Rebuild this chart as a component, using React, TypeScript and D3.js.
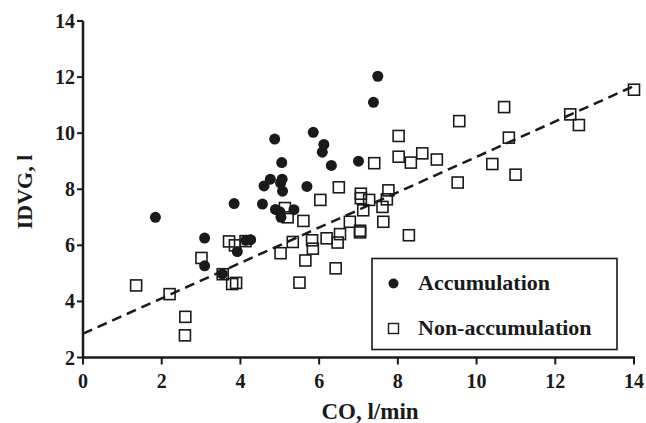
import React from "react";
import * as d3 from "d3";

const accX = [1.84, 3.09, 3.09, 3.54, 3.84, 3.92, 4.14, 4.26, 4.56, 4.6, 4.76, 4.87, 4.89, 5.02, 5.05, 5.06, 5.07, 5.0, 5.03, 5.36, 5.69, 5.85, 6.12, 6.08, 6.31, 7.0, 7.38, 7.49];
const accY = [7.0, 6.26, 5.27, 4.98, 7.49, 5.78, 6.18, 6.2, 7.47, 8.12, 8.36, 9.79, 7.28, 8.22, 8.95, 8.36, 7.93, 7.2, 7.0, 7.27, 8.1, 10.03, 9.6, 9.32, 8.85, 9.0, 11.1, 12.03];

const nonX = [1.35, 2.2, 2.6, 2.59, 3.01, 3.55, 3.71, 3.86, 4.13, 3.79, 3.89, 5.02, 5.33, 5.2, 5.13, 5.6, 5.65, 5.5, 5.82, 5.84, 6.03, 6.19, 6.5, 6.53, 6.47, 6.42, 6.78, 7.06, 7.06, 7.04, 7.04, 7.12, 7.27, 7.4, 7.61, 7.63, 7.72, 7.76, 8.02, 8.02, 8.33, 8.28, 8.62, 8.99, 9.52, 9.56, 10.4, 10.7, 10.82, 10.99, 12.38, 12.6, 14.0];
const nonY = [4.57, 4.26, 3.45, 2.79, 5.55, 4.97, 6.14, 6.0, 6.15, 4.62, 4.66, 5.72, 6.12, 7.0, 7.33, 6.87, 5.46, 4.67, 6.18, 5.88, 7.62, 6.25, 8.07, 6.4, 6.1, 5.18, 6.84, 7.84, 7.68, 6.52, 6.46, 7.25, 7.62, 8.93, 7.37, 6.84, 7.64, 7.96, 9.9, 9.16, 8.95, 6.36, 9.28, 9.06, 8.24, 10.43, 8.9, 10.93, 9.84, 8.52, 10.67, 10.29, 11.55];

const fitX = [0, 14];
const fitY = [2.85, 11.68];

const xTicks = [0, 2, 4, 6, 8, 10, 12, 14];
const yTicks = [2, 4, 6, 8, 10, 12, 14];

const legendLabels = ["Accumulation", "Non-accumulation"];

export default function App() {
  const x = d3.scaleLinear().domain([0, 14]).range([83, 634]);
  const y = d3.scaleLinear().domain([2, 14]).range([357.5, 21]);
  const font = "'Liberation Serif', 'Times New Roman', serif";
  const line = d3.line<number>().x((_, i) => x(fitX[i])).y((d) => y(d));
  const sq = 11;
  const ink = "#1a1a1a";

  return (
    <svg width={646} height={423} style={{ position: "absolute", left: 0, top: 0, background: "#fff" }} fontFamily={font} fontWeight="bold">
      <rect x={0} y={0} width={646} height={423} fill="#fff" />
      {/* axes */}
      <line x1={x(0)} x2={x(0)} y1={y(14)} y2={y(2) + 1} stroke={ink} strokeWidth={2.5} />
      <line x1={x(0) - 1} x2={x(14) + 1} y1={y(2)} y2={y(2)} stroke={ink} strokeWidth={2.5} />
      {yTicks.map((t) => (
        <g key={"y" + t}>
          <line x1={x(0) - 6} x2={x(0)} y1={y(t)} y2={y(t)} stroke={ink} strokeWidth={2} />
          <text x={x(0) - 8} y={y(t)} dy="0.35em" textAnchor="end" fontSize={20} fill={ink}>{t}</text>
        </g>
      ))}
      {xTicks.map((t) => (
        <g key={"x" + t}>
          <line x1={x(t)} x2={x(t)} y1={y(2)} y2={y(2) + 7} stroke={ink} strokeWidth={2} />
          <text x={x(t)} y={y(2) + 30} textAnchor="middle" fontSize={20} fill={ink}>{t}</text>
        </g>
      ))}
      <text x={370} y={419} textAnchor="middle" fontSize={23} fill={ink}>CO, l/min</text>
      <text transform={`translate(32,192) rotate(-90)`} textAnchor="middle" fontSize={22} fill={ink}>IDVG, l</text>

      {/* regression line */}
      <path d={line(fitY) || ""} fill="none" stroke={ink} strokeWidth={2.5} strokeDasharray="10,6" />

      {/* non-accumulation squares */}
      {nonX.map((v, i) => (
        <rect key={"n" + i} x={x(v) - sq / 2} y={y(nonY[i]) - sq / 2} width={sq} height={sq} fill="none" stroke={ink} strokeWidth={1.6} />
      ))}
      {/* accumulation circles */}
      {accX.map((v, i) => (
        <circle key={"a" + i} cx={x(v)} cy={y(accY[i])} r={5.5} fill={ink} />
      ))}

      {/* legend */}
      <rect x={372} y={258.5} width={245} height={91} fill="#fff" stroke={ink} strokeWidth={1.6} />
      <circle cx={393.5} cy={283.5} r={5} fill={ink} />
      <text x={418} y={290} fontSize={22} fill={ink}>{legendLabels[0]}</text>
      <rect x={388.5} y={323.5} width={10} height={10} fill="none" stroke={ink} strokeWidth={1.4} />
      <text x={418} y={335} fontSize={22} fill={ink}>{legendLabels[1]}</text>
    </svg>
  );
}
